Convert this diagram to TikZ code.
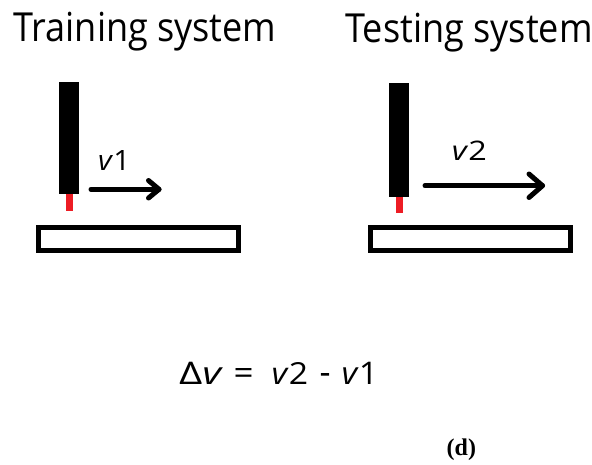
\documentclass[tikz,border=0pt]{standalone}
\usepackage{fontspec}
\setmainfont{Open Sans}
\newfontfamily\labelserif{Liberation Serif}
\definecolor{tipred}{HTML}{ED1C24}
\begin{document}
\begin{tikzpicture}[x=1pt,y=-1pt,
  titletext/.style={anchor=base west, inner sep=0pt, font=\fontsize{40}{48}\selectfont},
  vlabel/.style={anchor=base west, inner sep=0pt, font=\fontsize{28.5}{34}\selectfont},
  eqtext/.style={anchor=base west, inner sep=0pt, font=\fontsize{31.5}{38}\selectfont},
  toolbar/.style={fill=black, draw=none},
  tiptip/.style={fill=tipred, draw=none},
  plate/.style={draw=black, line width=5pt, fill=white},
  motion/.style={draw=black, line width=5pt, line cap=round, line join=round}
]
\useasboundingbox (0,0) rectangle (592,464);
% titles
\node[titletext] (t1) at (13.3,41.7) {\scalebox{0.902}[1]{Training system}};
\node[titletext] (t2) at (345.3,42) {\scalebox{0.902}[1]{Testing system}};
% training system
\fill[toolbar] (59.3,81.7) rectangle (79.3,194);
\fill[tiptip] (66,194) rectangle (72.7,210.7);
\draw[plate] (38.5,227.5) rectangle (238.2,250.8);
\draw[motion] (91,189.3) -- (159,189.3);
\draw[motion] (148.5,180.5) -- (159,189.3) -- (148.5,198);
\node[vlabel] (v1) at (98,170) {\resizebox{32pt}{20pt}{\textit{v}1}};
% testing system
\fill[toolbar] (389.3,83.3) rectangle (409.3,196.7);
\fill[tiptip] (396,196.7) rectangle (402.7,212.7);
\draw[plate] (370.8,227.5) rectangle (570.8,250.8);
\draw[motion] (425,185.7) -- (542.5,185.7);
\draw[motion] (529,174) -- (542.5,185.7) -- (529,197.5);
\node[vlabel] (v2) at (451.7,160.7) {\resizebox{35pt}{19.5pt}{\textit{v}2}};
% equation
\node[eqtext] (eqa) at (179,384.4) {\resizebox{44pt}{22.3pt}{Δ\textit{v}}};
\node[eqtext] (eqb) at (233.5,384.4) {\resizebox{20pt}{16pt}{=}};
\node[eqtext] (eqc) at (271.5,384.4) {\resizebox{36.5pt}{22pt}{\textit{v}2}};
\node[eqtext] (eqd) at (319.5,384.4) {\resizebox{11pt}{11pt}{-}};
\node[eqtext] (eqe) at (341.5,384.4) {\resizebox{36.5pt}{22.3pt}{\textit{v}1}};
% caption
\node[anchor=base west, inner sep=0pt, font=\labelserif\bfseries\fontsize{24}{28}\selectfont] (cap) at (446.5,455) {(d)};
\end{tikzpicture}
\end{document}
